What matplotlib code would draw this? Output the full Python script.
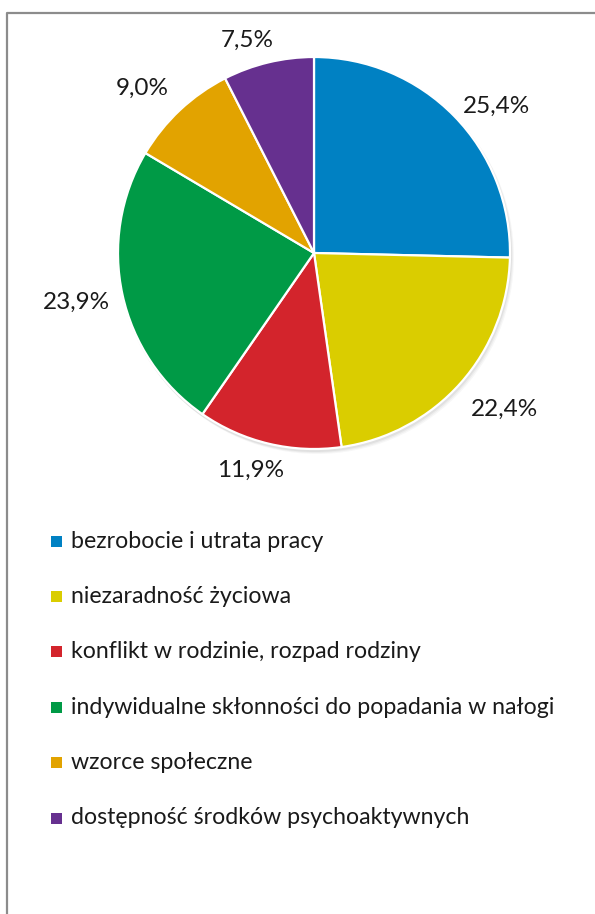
import matplotlib.pyplot as plt
from matplotlib.patches import Circle

plt.rcParams['font.family'] = ['Lato', 'DejaVu Sans']

# share of answers per cause
categories = [
    'bezrobocie i utrata pracy',
    'niezaradność życiowa',
    'konflikt w rodzinie, rozpad rodziny',
    'indywidualne skłonności do popadania w nałogi',
    'wzorce społeczne',
    'dostępność środków psychoaktywnych',
]
values = [25.4, 22.4, 11.9, 23.9, 9.0, 7.5]
colors = ['#0081C3', '#DACD00', '#D3242C', '#009A46', '#E2A300', '#66308F']

W, H = 595, 914
cx, cy, r = 314, H - 253, 196
# label centres relative to the pie centre (pixels, y up)
label_offsets = [(183, 147), (191, -156), (-63, -217), (-238, -49), (-172, 165), (-67, 213)]

fig = plt.figure(figsize=(W / 100, H / 100), dpi=100)
ax = fig.add_axes([0, 0, 1, 1])

# outer frame, only top and left fit on the page
ax.plot([6.5, 6.5, W + 5], [-5, H - 12.5, H - 12.5], color='#8c8c8c', lw=1.6)

# soft shadow under the pie
for i, a in enumerate([0.05, 0.04, 0.03]):
    ax.add_patch(Circle((cx + 1 + i, cy - 2 - i), r + 1, color='black', alpha=a, lw=0, zorder=1))

wedges, _ = ax.pie(values, colors=colors, startangle=90, counterclock=False,
                   center=(cx, cy), radius=r, frame=True,
                   wedgeprops=dict(edgecolor='white', linewidth=1.6, zorder=2))
ax.set_xlim(0, W)
ax.set_ylim(0, H)
ax.set_aspect('equal')
ax.axis('off')

for v, (dx, dy) in zip(values, label_offsets):
    ax.text(cx + dx, cy + dy, f'{v:.1f}%'.replace('.', ','), ha='center', va='center',
            fontsize=17.5, color='#1a1a1a')

# legend drawn as squares and text rows
leg_y0, leg_step = H - 541, 55.4
for i, (name, c) in enumerate(zip(categories, colors)):
    y = leg_y0 - i * leg_step
    ax.add_patch(plt.Rectangle((51, y - 5.5), 11, 11, color=c, lw=0))
    ax.text(71, y, name, ha='left', va='center', fontsize=16.7, color='#1a1a1a')

fig.savefig('out.png', dpi=100)
